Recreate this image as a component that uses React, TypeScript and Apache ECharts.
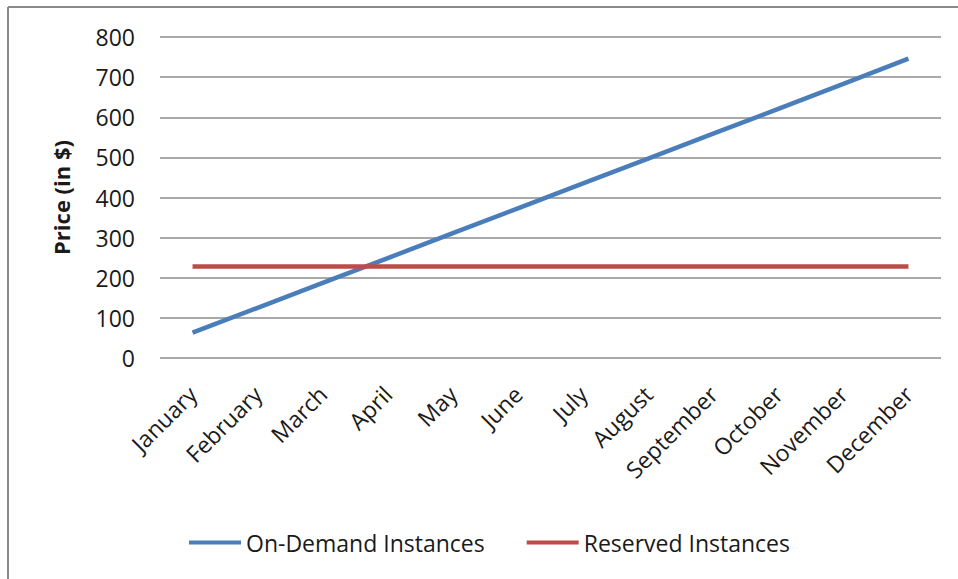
import React, { useEffect, useRef } from "react";
import * as echarts from "echarts";

const months = ["January", "February", "March", "April", "May", "June", "July", "August", "September", "October", "November", "December"];
const onDemand = [63, 125, 187, 249, 311, 373, 435, 497, 559, 621, 683, 746];
const reserved = [228, 228, 228, 228, 228, 228, 228, 228, 228, 228, 228, 228];
const seriesNames = ["On-Demand Instances", "Reserved Instances"];
const yTitle = "Price (in $)";

export default function App() {
  const ref = useRef<HTMLDivElement>(null);
  useEffect(() => {
    const chart = echarts.init(ref.current!, null, { renderer: "svg" });
    const font = "'Open Sans', 'Noto Sans', sans-serif";
    chart.setOption({
      animation: false,
      backgroundColor: "#ffffff",
      textStyle: { fontFamily: font },
      grid: { left: 160, right: 17, top: 37, bottom: 221, containLabel: false },
      graphic: [
        { type: "line", shape: { x1: 8, y1: 7, x2: 958, y2: 7 }, style: { stroke: "#8a8a8a", lineWidth: 2 } },
        { type: "line", shape: { x1: 8, y1: 7, x2: 8, y2: 579 }, style: { stroke: "#8a8a8a", lineWidth: 2 } },
      ],
      legend: {
        data: seriesNames.map((n) => ({ name: n, icon: "rect" })),
        bottom: 20,
        left: 184,
        itemWidth: 52,
        itemHeight: 4,
        itemGap: 42,
        textStyle: { fontFamily: font, fontSize: 23, color: "#1a1a1a" },
      },
      xAxis: {
        type: "category",
        data: months,
        boundaryGap: true,
        axisLine: { show: false },
        axisTick: { show: false },
        axisLabel: { rotate: 45, margin: 32, fontFamily: font, fontSize: 23, color: "#1a1a1a", interval: 0 },
      },
      yAxis: {
        type: "value",
        min: 0,
        max: 800,
        interval: 100,
        name: yTitle,
        nameLocation: "middle",
        nameGap: 88,
        nameTextStyle: { fontFamily: font, fontSize: 22, fontWeight: "bold", color: "#1a1a1a" },
        axisLine: { show: false },
        axisTick: { show: false },
        axisLabel: { margin: 25, fontFamily: font, fontSize: 23, color: "#1a1a1a" },
        splitLine: { lineStyle: { color: "#8c8c8c", width: 1.5 } },
      },
      series: [
        {
          name: seriesNames[0],
          type: "line",
          data: onDemand,
          symbol: "none",
          lineStyle: { color: "#4a7ebb", width: 4.5 },
          itemStyle: { color: "#4a7ebb" },
        },
        {
          name: seriesNames[1],
          type: "line",
          data: reserved,
          symbol: "none",
          lineStyle: { color: "#be4b48", width: 4.5 },
          itemStyle: { color: "#be4b48" },
        },
      ],
    });
    return () => chart.dispose();
  }, []);
  return <div ref={ref} style={{ position: "fixed", left: 0, top: 0, width: 958, height: 579 }} />;
}
